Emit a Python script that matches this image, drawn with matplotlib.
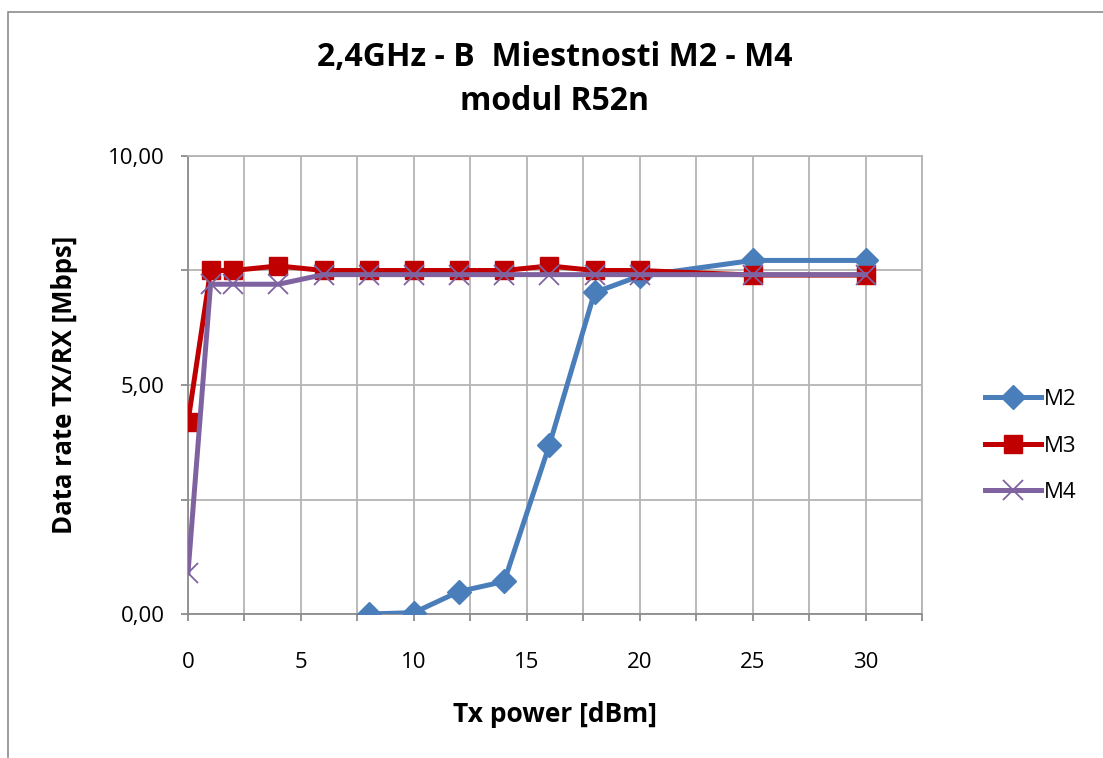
import matplotlib
matplotlib.use("Agg")
import matplotlib.pyplot as plt
from matplotlib.patches import Rectangle

# Data
m2_x = [8, 10, 12, 14, 16, 18, 20, 25, 30]
m2_y = [0.00, 0.03, 0.49, 0.71, 3.69, 7.02, 7.38, 7.72, 7.72]
m3_x = [0, 1, 2, 4, 6, 8, 10, 12, 14, 16, 18, 20, 25, 30]
m3_y = [4.20, 7.50, 7.50, 7.60, 7.50, 7.50, 7.50, 7.50, 7.50, 7.60, 7.50, 7.50, 7.40, 7.40]
m4_x = [0, 1, 2, 4, 6, 8, 10, 12, 14, 16, 18, 20, 25, 30]
m4_y = [0.90, 7.20, 7.20, 7.20, 7.41, 7.41, 7.41, 7.41, 7.41, 7.41, 7.41, 7.41, 7.41, 7.41]
x_ticks = [0, 2.5, 5, 7.5, 10, 12.5, 15, 17.5, 20, 22.5, 25, 27.5, 30, 32.5]
x_labels = ["0", "", "5", "", "10", "", "15", "", "20", "", "25", "", "30", ""]
y_ticks = [0, 2.5, 5, 7.5, 10]
y_labels = ["0,00", "", "5,00", "", "10,00"]

plt.rcParams['font.family'] = ['Open Sans', 'DejaVu Sans']

W, H = 1103, 758
fig = plt.figure(figsize=(W / 100, H / 100), dpi=100)
fig.patches.append(Rectangle((8 / W, -0.1), 1.2, 1.1 - 12 / H, transform=fig.transFigure,
                             fill=False, edgecolor='#8c8c8c', linewidth=1.2))

ax = fig.add_axes([188 / W, 1 - 614 / H, (922 - 188) / W, (614 - 156) / H])
ax.set_xlim(0, 32.5)
ax.set_ylim(0, 10)

grid_c = '#b4b4b4'
ax.set_xticks(x_ticks)
ax.set_xticklabels(x_labels)
ax.set_yticks(y_ticks)
ax.set_yticklabels(y_labels)
ax.grid(True, color=grid_c, linewidth=1.3)
ax.set_axisbelow(True)
for s in ax.spines.values():
    s.set_color(grid_c)
    s.set_linewidth(1.3)
ax.spines['left'].set_color('#8c8c8c')
ax.spines['bottom'].set_color('#8c8c8c')
ax.tick_params(axis='both', direction='out', length=5, width=1.3, color='#8c8c8c',
               labelsize=16, labelcolor='black')
ax.tick_params(axis='x', pad=22)
ax.tick_params(axis='y', pad=12)

l2, = ax.plot(m2_x, m2_y, color='#4A7EBB', linewidth=3.6, marker='D', markersize=12,
              label='M2', zorder=3)
l3, = ax.plot(m3_x, m3_y, color='#C00000', linewidth=3.6, marker='s', markersize=12.5,
              label='M3', zorder=4)
l4, = ax.plot(m4_x, m4_y, color='#7F63A1', linewidth=3.6, marker='x', markersize=14,
              markeredgewidth=1.3, label='M4', zorder=5)

fig.text(555 / W, 1 - 57 / H, "2,4GHz - B  Miestnosti M2 - M4", ha='center', va='center',
         fontsize=23, fontweight='bold')
fig.text(555 / W, 1 - 102 / H, "modul R52n", ha='center', va='center',
         fontsize=23, fontweight='bold')
fig.text(555 / W, 1 - 714 / H, "Tx power [dBm]", ha='center', va='center',
         fontsize=19, fontweight='bold')
fig.text(65 / W, 1 - 385 / H, "Data rate TX/RX [Mbps]", ha='center', va='center',
         rotation=90, fontsize=18.5, fontweight='bold')

leg = fig.legend(handles=[l2, l3, l4], loc='center left', bbox_to_anchor=(985 / W, 1 - 446 / H),
                 frameon=False, fontsize=16, handlelength=2.5, handletextpad=0.15,
                 labelspacing=1.15, borderaxespad=0, borderpad=0)

fig.savefig("out.png", dpi=100)
